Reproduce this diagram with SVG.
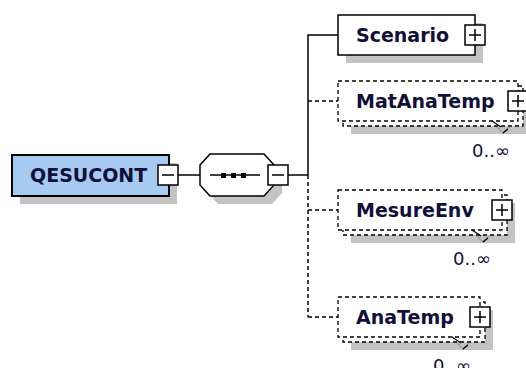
<svg xmlns="http://www.w3.org/2000/svg" width="526" height="368" viewBox="0 0 526 368">
<defs>
<style>
.bg{fill:#ffffff}
.sh{fill:#c3c3c3;stroke:none}
.box{fill:#ffffff;stroke:#000;stroke-width:1.5}
.root{fill:#a6caf0;stroke:#000;stroke-width:2}
.dbox{fill:#ffffff;stroke:#000;stroke-width:1.3;stroke-dasharray:4 3}
.pm{fill:#ffffff;stroke:#000;stroke-width:1.5}
.glyph{stroke:#000;stroke-width:1.5;fill:none}
.ln{stroke:#000;stroke-width:1.5;fill:none}
.dln{stroke:#000;stroke-width:1.5;fill:none;stroke-dasharray:4 3}
.lbl{font-family:"DejaVu Sans",Verdana,sans-serif;font-weight:bold;font-size:19px;fill:#10103a}
.card{font-family:"DejaVu Sans",Verdana,sans-serif;font-size:18px;fill:#10103a;text-anchor:end}
.notchd{stroke:#000;stroke-width:1.2;fill:none}
.notchg{stroke:#9a9a9a;stroke-width:1.2;fill:none}
</style>
</defs>
<rect class="bg" x="0" y="0" width="526" height="368"/>

<g id="connectors">
<line class="ln" x1="178" y1="175" x2="200" y2="175"/>
<line class="ln" x1="288" y1="175" x2="308" y2="175"/>
<polyline class="ln" points="338,35 308,35 308,175"/>
<line class="dln" x1="308" y1="175" x2="308" y2="317"/>
<line class="dln" x1="308" y1="101" x2="338" y2="101"/>
<line class="dln" x1="308" y1="210" x2="338" y2="210"/>
<line class="dln" x1="308" y1="317" x2="338" y2="317"/>
</g>

<g id="node-QESUCONT">
<rect class="sh" x="20" y="163" width="157" height="41"/>
<rect class="root" x="12" y="155" width="157" height="41"/>
<text class="lbl" x="30" y="182" font-size="18.5">QESUCONT</text>
<rect class="pm" x="158" y="165" width="20" height="20"/>
<line class="glyph" x1="162" y1="175" x2="174" y2="175"/>
</g>

<g id="node-sequence">
<polygon class="sh" points="208,173 218,162 272,162 282,173 282,193 272,204 218,204 208,193"/>
<polygon class="box" points="200,165 210,154 264,154 274,165 274,185 264,196 210,196 200,185"/>
<line class="ln" x1="210" y1="175" x2="260" y2="175"/>
<rect x="221" y="173" width="5" height="5" fill="#000"/>
<rect x="231" y="173" width="5" height="5" fill="#000"/>
<rect x="241" y="173" width="5" height="5" fill="#000"/>
<rect class="pm" x="268" y="165" width="20" height="20"/>
<line class="glyph" x1="272" y1="175" x2="284" y2="175"/>
</g>

<g id="node-Scenario">
<rect class="sh" x="346" y="23" width="137" height="40"/>
<rect class="box" x="338" y="15" width="137" height="40"/>
<text class="lbl" x="356" y="42">Scenario</text>
<rect class="pm" x="465" y="25" width="20" height="20"/>
<path class="glyph" d="M469,35H481M475,29V41"/>
</g>

<g id="node-MatAnaTemp">
<rect class="sh" x="351" y="94" width="180" height="40"/>
<rect class="dbox" x="343" y="86" width="180" height="40"/>
<rect class="dbox" x="338" y="81" width="180" height="40"/>
<path class="notchd" d="M492,121L501,127"/>
<path class="notchg" d="M497,127L503,133L509,127"/>
<path class="notchd" d="M503,133L508,129"/>
<text class="lbl" x="356" y="108">MatAnaTemp</text>
<rect class="pm" x="508" y="91" width="20" height="20"/>
<path class="glyph" d="M512,101H524M518,95V107"/>
<text class="card" x="510" y="157">0..∞</text>
</g>

<g id="node-MesureEnv">
<rect class="sh" x="351" y="203" width="164" height="40"/>
<rect class="dbox" x="343" y="195" width="164" height="40"/>
<rect class="dbox" x="338" y="190" width="164" height="40"/>
<path class="notchd" d="M472,230L481,236"/>
<path class="notchg" d="M477,236L483,242L489,236"/>
<path class="notchd" d="M483,242L488,238"/>
<text class="lbl" x="356" y="217">MesureEnv</text>
<rect class="pm" x="492" y="200" width="20" height="20"/>
<path class="glyph" d="M496,210H508M502,204V216"/>
<text class="card" x="491" y="265">0..∞</text>
</g>

<g id="node-AnaTemp">
<rect class="sh" x="351" y="310" width="142" height="40"/>
<rect class="dbox" x="343" y="302" width="142" height="40"/>
<rect class="dbox" x="338" y="297" width="142" height="40"/>
<path class="notchd" d="M452,337L461,343"/>
<path class="notchg" d="M457,343L463,349L469,343"/>
<path class="notchd" d="M463,349L468,345"/>
<text class="lbl" x="356" y="324">AnaTemp</text>
<rect class="pm" x="470" y="307" width="20" height="20"/>
<path class="glyph" d="M474,317H486M480,311V323"/>
<text class="card" x="471" y="372">0..∞</text>
</g>
</svg>
